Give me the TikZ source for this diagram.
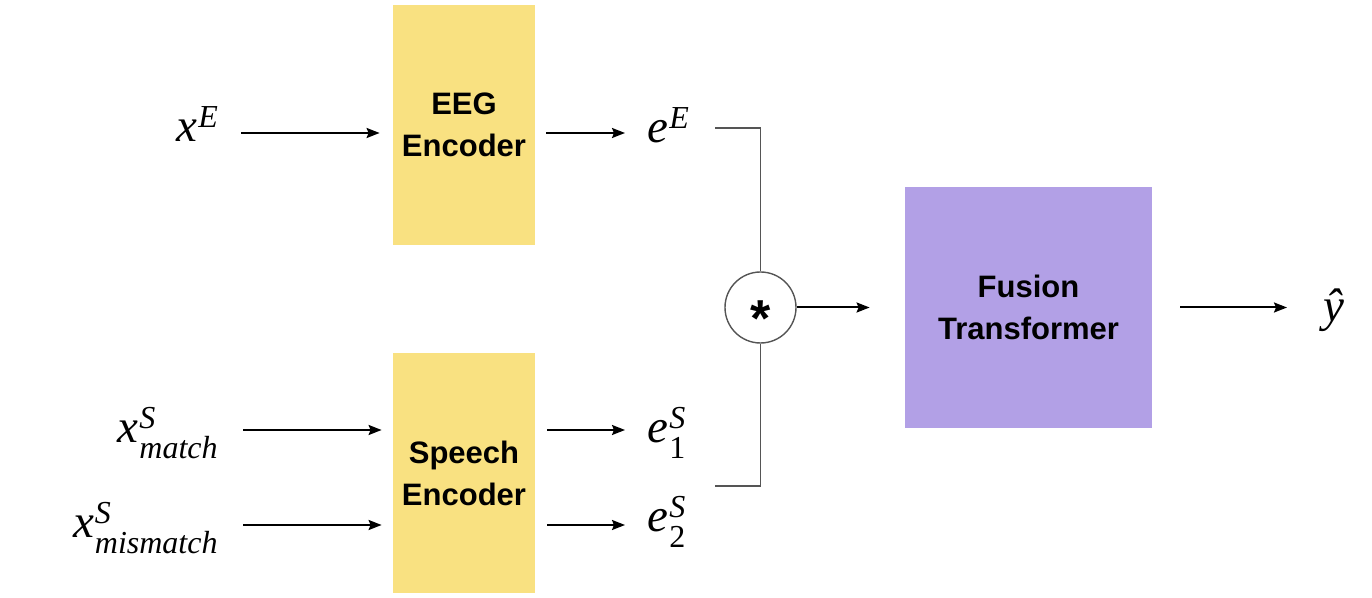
\documentclass[tikz,border=0pt]{standalone}
\usepackage{fontspec}
\setmainfont{Liberation Serif}
\setsansfont{Liberation Sans}
\usetikzlibrary{arrows.meta}
\definecolor{encyellow}{RGB}{249,225,129}
\definecolor{fusviolet}{RGB}{178,160,230}
\definecolor{linkgray}{RGB}{85,85,85}
\newcommand{\idxfont}{\fontsize{16}{16}\selectfont}
\newcommand{\mlab}[3]{\textit{#1}\kern0.5pt{\idxfont\ooalign{\raisebox{7pt}{\textit{#2}}\cr\raisebox{-8pt}{#3}\cr}}}

\begin{document}
\begin{tikzpicture}[x=0.5pt, y=-0.5pt,
    block/.style={fill=#1, inner sep=0pt, align=center,
        font=\fontsize{15.5}{21}\selectfont\sffamily\bfseries},
    sym/.style={inner sep=0pt, font=\fontsize{23.5}{28}\selectfont},
    arr/.style={-{Stealth[length=6.5pt, width=5pt, inset=1pt]}, line width=1pt},
    link/.style={draw=linkgray, line width=0.7pt}]
    \useasboundingbox (0,0) rectangle (1372,598);

    \node[block=encyellow, minimum width=71pt, minimum height=120pt] (eeg) at (464,125) {EEG\\Encoder};
    \node[block=encyellow, minimum width=71pt, minimum height=120pt] (speech) at (464,473) {Speech\\Encoder};
    \node[block=fusviolet, minimum width=123.5pt, minimum height=120.5pt] (fus) at (1028.5,307.5) {Fusion\\Transformer};
    \node[circle, link, minimum size=35.5pt, inner sep=0pt,
        label={[font=\fontsize{26}{26}\selectfont\sffamily\bfseries, yshift=-5.5pt]center:*}] (mul) at (760.5,307.5) {};

    \node[sym, anchor=base west] (xE) at (176,142) {\mlab{x}{E}{}};
    \node[sym, anchor=base east] (xm) at (218,443) {\mlab{x}{S}{\textit{match}}};
    \node[sym, anchor=base east] (xmm) at (218,538) {\mlab{x}{S}{\textit{mismatch}}};
    \node[sym, anchor=base west] (eE) at (647,143) {\mlab{e}{E}{}};
    \node[sym, anchor=base west] (e1) at (647,443) {\mlab{e}{S}{1}};
    \node[sym, anchor=base west] (e2) at (647,532) {\mlab{e}{S}{2}};
    \node[sym, anchor=base west] (yhat) at (1323,322) {\textit{\^y}};

    \coordinate (rowE) at (0,133);
    \coordinate (jE) at (715,128);
    \coordinate (jS) at (715,486);

    \draw[arr, shorten <=11.5pt, shorten >=6.5pt] (xE.east |- rowE) -- (eeg.west |- rowE);
    \draw[arr, shorten <=5.5pt, shorten >=11pt] (eeg.east |- rowE) -- (eE.west |- rowE);
    \foreach \src/\dst/\y in {xm/e1/430, xmm/e2/525} {
        \draw[arr, shorten <=12.5pt, shorten >=5.5pt] (\src.east |- 0,\y) -- (speech.west |- 0,\y);
        \draw[arr, shorten <=6pt, shorten >=11pt] (speech.east |- 0,\y) -- (\dst.west |- 0,\y);
    }

    \draw[link] (jE) -| (mul.north);
    \draw[link] (jS) -| (mul.south);
    \draw[arr, shorten >=17.5pt] (mul.east) -- (mul.east -| fus.west);
    \draw[arr, shorten <=14pt, shorten >=18pt] (fus.east |- mul.east) -- (yhat.west |- mul.east);
\end{tikzpicture}
\end{document}
